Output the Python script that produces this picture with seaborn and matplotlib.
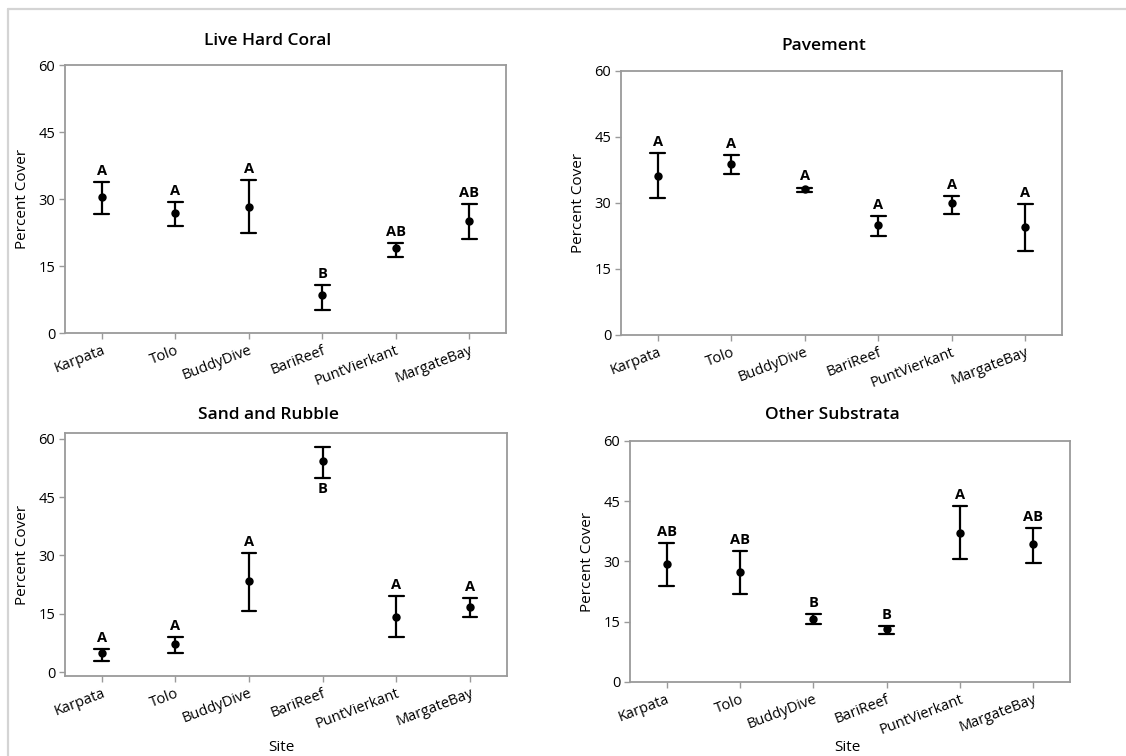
import matplotlib
matplotlib.use("Agg")
import matplotlib.pyplot as plt
from matplotlib.lines import Line2D
import seaborn as sns
import pandas as pd

sites = ["Karpata", "Tolo", "BuddyDive", "BariReef", "PuntVierkant", "MargateBay"]

# mean, lower and upper end of the error bar
coral_mean = [30.4, 26.9, 28.2, 8.4, 19.0, 25.1]
coral_low = [26.7, 24.0, 22.3, 5.2, 17.0, 21.0]
coral_high = [33.7, 29.4, 34.2, 10.8, 20.1, 28.8]
coral_letters = ["A", "A", "A", "B", "AB", "AB"]

pave_mean = [36.2, 38.9, 33.1, 25.1, 30.0, 24.6]
pave_low = [31.1, 36.5, 32.4, 22.6, 27.6, 19.1]
pave_high = [41.3, 40.9, 33.5, 27.1, 31.6, 29.8]
pave_letters = ["A", "A", "A", "A", "A", "A"]

sand_mean = [4.8, 7.3, 23.4, 54.2, 14.3, 16.8]
sand_low = [2.9, 5.0, 15.6, 50.0, 9.1, 14.1]
sand_high = [6.0, 9.1, 30.7, 57.9, 19.6, 19.1]
sand_letters = ["A", "A", "A", "B", "A", "A"]

other_mean = [29.4, 27.4, 15.7, 13.2, 37.2, 34.3]
other_low = [23.8, 21.8, 14.5, 12.0, 30.6, 29.7]
other_high = [34.5, 32.6, 17.0, 14.0, 43.8, 38.4]
other_letters = ["AB", "AB", "B", "B", "A", "AB"]

sns.set_theme(style="white")
plt.rcParams["font.family"] = ["Open Sans", "DejaVu Sans"]
plt.rcParams["text.color"] = "black"
plt.rcParams["axes.labelcolor"] = "black"

fig = plt.figure(figsize=(11.26, 7.56), dpi=100)

# light frame on the left and top edge
fig.add_artist(Line2D([8 / 1126, 8 / 1126], [0, 1 - 9 / 756], color="#d4d4d4", lw=1.6))
fig.add_artist(Line2D([8 / 1126, 1], [1 - 9 / 756, 1 - 9 / 756], color="#d4d4d4", lw=1.6))

panels = [
    ("Live Hard Coral", coral_mean, coral_low, coral_high, coral_letters,
     [0.0577, 0.5595, 0.3917, 0.3545], (0, 60), None, None, 27),
    ("Pavement", pave_mean, pave_low, pave_high, pave_letters,
     [0.5515, 0.5569, 0.3917, 0.3492], (0, 60), None, None, 28),
    ("Sand and Rubble", sand_mean, sand_low, sand_high, sand_letters,
     [0.0577, 0.1058, 0.3925, 0.3214], (-1, 61.5), (0.49, -0.262), "BariReef", 21),
    ("Other Substrata", other_mean, other_low, other_high, other_letters,
     [0.5595, 0.0979, 0.3908, 0.3188], (0, 60), (0.495, -0.24), None, 29),
]

for title, mean, low, high, letters, rect, ylim, site_pos, below, gap in panels:
    ax = fig.add_axes(rect)
    df = pd.DataFrame({
        "Site": sites * 3,
        "value": low + mean + high,
    })
    sns.pointplot(data=df, x="Site", y="value", order=sites,
                  estimator="median",
                  errorbar=lambda v: (v.min(), v.max()),
                  color="black", linestyle="none", markers="o",
                  markersize=4, capsize=0.2,
                  err_kws={"linewidth": 1.6}, ax=ax)
    ax.set_xlim(-0.5, 5.5)
    ax.set_ylim(*ylim)
    ax.set_yticks([0, 15, 30, 45, 60])
    for s in ax.spines.values():
        s.set_color("#9a9a9a")
        s.set_linewidth(1.3)
    ax.tick_params(axis="both", which="both", length=4, width=1, color="#9a9a9a",
                   labelsize=10.5, labelcolor="black", pad=3,
                   bottom=True, left=True)
    ax.set_xticks(range(len(sites)))
    ax.set_xticklabels(sites, rotation=21, ha="right", va="top", rotation_mode="anchor")
    ax.set_ylabel("Percent Cover", fontsize=11, labelpad=6)
    if site_pos:
        ax.set_xlabel("Site", fontsize=11)
        ax.xaxis.set_label_coords(*site_pos)
    else:
        ax.set_xlabel("")
    ax.annotate(title, (0.46, 1.0), xycoords="axes fraction",
                xytext=(0, gap * 0.72 - 8), textcoords="offset points",
                ha="center", va="bottom", fontsize=12.5, fontweight="semibold")
    for i, s in enumerate(sites):
        if s == below:
            ax.annotate(letters[i], (i, low[i]), xytext=(0, -3), textcoords="offset points",
                        ha="center", va="top", fontsize=10.5, fontweight="bold")
        else:
            ax.annotate(letters[i], (i, high[i]), xytext=(0, 3), textcoords="offset points",
                        ha="center", va="bottom", fontsize=10.5, fontweight="bold")

fig.savefig("out.png", dpi=100)
